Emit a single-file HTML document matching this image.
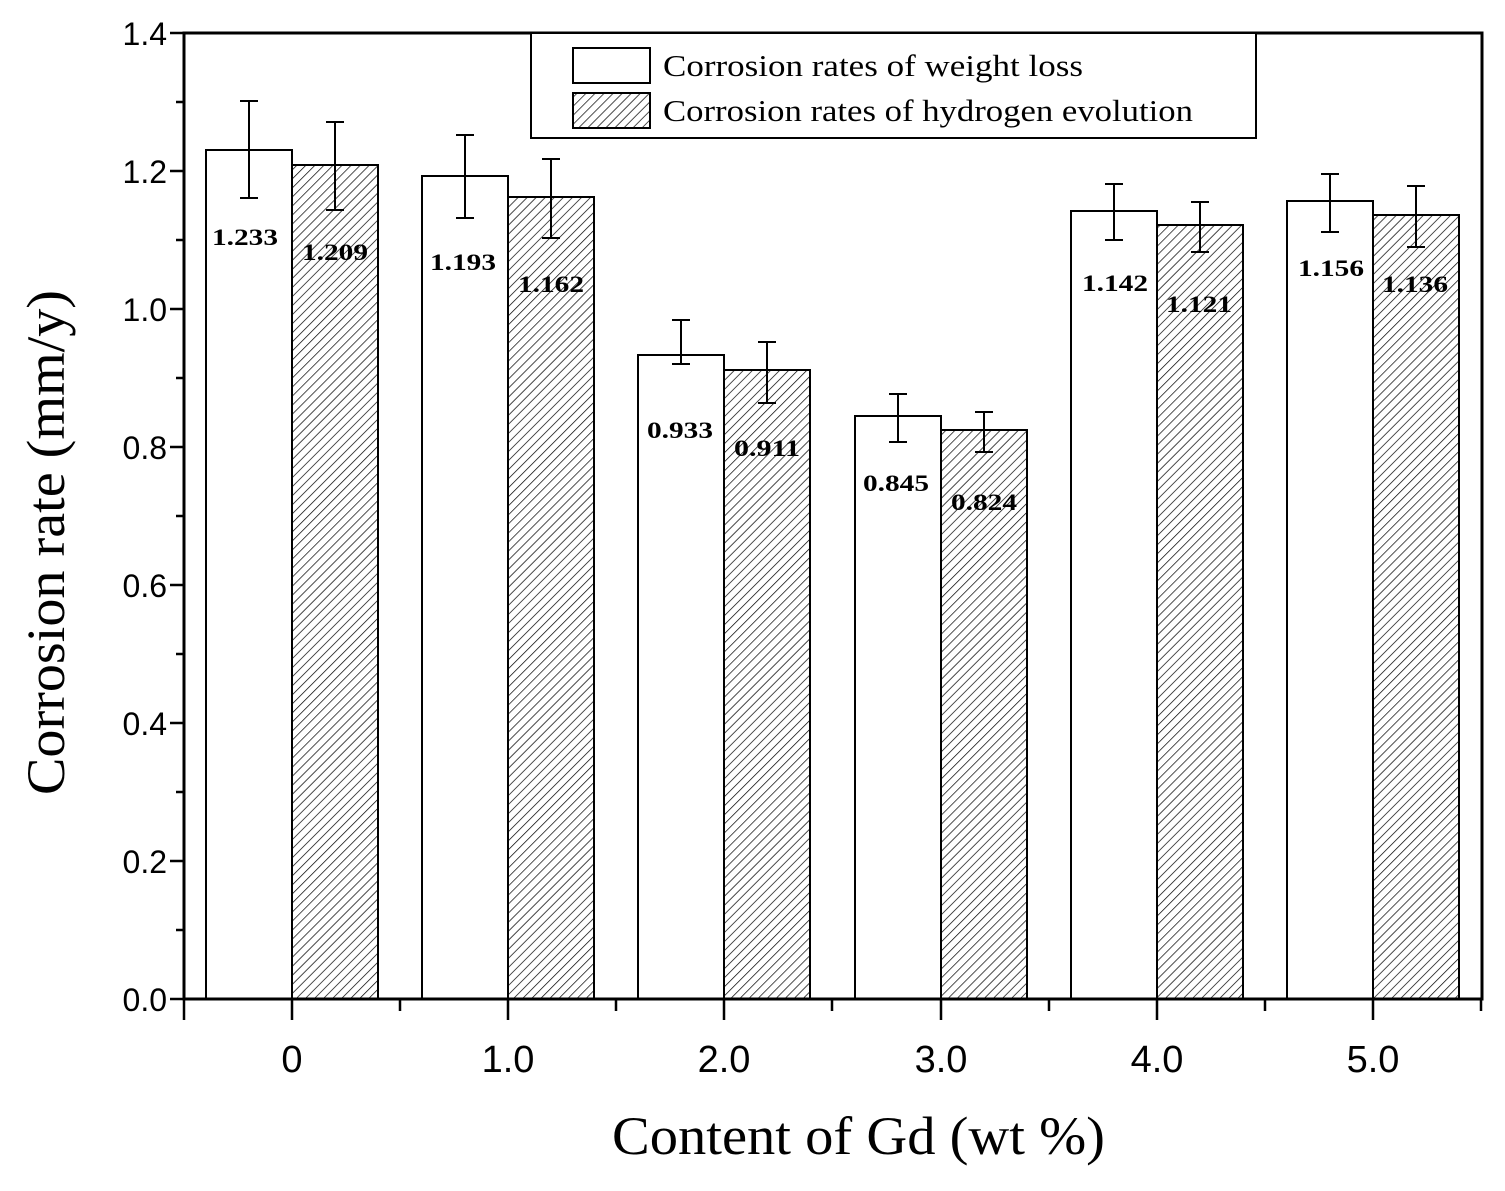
<!DOCTYPE html>
<html><head><meta charset="utf-8"><style>body{margin:0;background:#fff}</style></head><body>
<svg width="1505" height="1186" xmlns="http://www.w3.org/2000/svg">
<defs><pattern id="h" patternUnits="userSpaceOnUse" width="6.4" height="6.4" patternTransform="rotate(45)"><rect width="6.4" height="6.4" fill="#fff"/><line x1="0" y1="0" x2="0" y2="6.4" stroke="#000" stroke-width="1.4"/></pattern></defs>
<g stroke="#000" stroke-width="2">
<rect x="206" y="150" width="86" height="849" fill="#fff"/><rect x="292" y="165" width="86" height="834" fill="url(#h)"/>
<rect x="422" y="176" width="86" height="823" fill="#fff"/><rect x="508" y="197" width="86" height="802" fill="url(#h)"/>
<rect x="638" y="355" width="86" height="644" fill="#fff"/><rect x="724" y="370" width="86" height="629" fill="url(#h)"/>
<rect x="855" y="416" width="86" height="583" fill="#fff"/><rect x="941" y="430" width="86" height="569" fill="url(#h)"/>
<rect x="1071" y="211" width="86" height="788" fill="#fff"/><rect x="1157" y="225" width="86" height="774" fill="url(#h)"/>
<rect x="1287" y="201" width="86" height="798" fill="#fff"/><rect x="1373" y="215" width="86" height="784" fill="url(#h)"/>
<path fill="none" d="
M249 101V198M240 101H258M240 198H258
M335 122V210M326 122H344M326 210H344
M465 135V218M456 135H474M456 218H474
M551 159V238M542 159H560M542 238H560
M681 320V364M672 320H690M672 364H690
M767 342V403M758 342H776M758 403H776
M898 394V442M889 394H907M889 442H907
M984 412V452M975 412H993M975 452H993
M1114 184V240M1105 184H1123M1105 240H1123
M1200 202V252M1191 202H1209M1191 252H1209
M1330 174V232M1321 174H1339M1321 232H1339
M1416 186V247M1407 186H1425M1407 247H1425"/>
</g>
<g font-family="Liberation Serif,serif" font-weight="bold" font-size="23">
<text x="212" y="245" textLength="66" lengthAdjust="spacingAndGlyphs">1.233</text><text x="302" y="260" textLength="66" lengthAdjust="spacingAndGlyphs">1.209</text>
<text x="430" y="270" textLength="66" lengthAdjust="spacingAndGlyphs">1.193</text><text x="518" y="292" textLength="66" lengthAdjust="spacingAndGlyphs">1.162</text>
<text x="647" y="438" textLength="66" lengthAdjust="spacingAndGlyphs">0.933</text><text x="734" y="456" textLength="66" lengthAdjust="spacingAndGlyphs">0.911</text>
<text x="863" y="491" textLength="66" lengthAdjust="spacingAndGlyphs">0.845</text><text x="951" y="510" textLength="66" lengthAdjust="spacingAndGlyphs">0.824</text>
<text x="1082" y="291" textLength="66" lengthAdjust="spacingAndGlyphs">1.142</text><text x="1166" y="312" textLength="66" lengthAdjust="spacingAndGlyphs">1.121</text>
<text x="1298" y="276" textLength="66" lengthAdjust="spacingAndGlyphs">1.156</text><text x="1382" y="292" textLength="66" lengthAdjust="spacingAndGlyphs">1.136</text>
</g>
<rect x="184" y="33" width="1298" height="966" fill="none" stroke="#000" stroke-width="3"/>
<path stroke="#000" stroke-width="2.5" fill="none" d="
M170 999H184M176 930H184M170 861H184M176 792H184M170 723H184M176 654H184M170 585H184M176 516H184M170 447H184M176 378H184M170 309H184M176 240H184M170 171H184M176 102H184M170 33H184
M184 999V1020M292 999V1020M508 999V1020M724 999V1020M941 999V1020M1157 999V1020M1373 999V1020
M400 999V1011M616 999V1011M832 999V1011M1049 999V1011M1265 999V1011M1481 999V1011"/>
<g font-family="Liberation Sans,sans-serif" font-size="32" text-anchor="end">
<text x="167" y="1011">0.0</text><text x="167" y="873">0.2</text><text x="167" y="735">0.4</text><text x="167" y="597">0.6</text><text x="167" y="459">0.8</text><text x="167" y="321">1.0</text><text x="167" y="183">1.2</text><text x="167" y="45">1.4</text>
</g>
<g font-family="Liberation Sans,sans-serif" font-size="38" text-anchor="middle">
<text x="292" y="1072">0</text><text x="508" y="1072">1.0</text><text x="724" y="1072">2.0</text><text x="941" y="1072">3.0</text><text x="1157" y="1072">4.0</text><text x="1373" y="1072">5.0</text>
</g>
<text x="612" y="1154" font-family="Liberation Serif,serif" font-size="54" textLength="493" lengthAdjust="spacingAndGlyphs">Content of Gd (wt %)</text>
<text transform="translate(64,795) rotate(-90)" font-family="Liberation Serif,serif" font-size="54" textLength="505" lengthAdjust="spacingAndGlyphs">Corrosion rate (mm/y)</text>
<rect x="531" y="33" width="725" height="105" fill="#fff" stroke="#000" stroke-width="2"/>
<rect x="573" y="48" width="77" height="35" fill="#fff" stroke="#000" stroke-width="2"/>
<rect x="573" y="93" width="77" height="35" fill="url(#h)" stroke="#000" stroke-width="2"/>
<g font-family="Liberation Serif,serif" font-size="31"><text x="663" y="76" textLength="420" lengthAdjust="spacingAndGlyphs">Corrosion rates of weight loss</text><text x="663" y="121" textLength="530" lengthAdjust="spacingAndGlyphs">Corrosion rates of hydrogen evolution</text></g>
</svg>
</body></html>
